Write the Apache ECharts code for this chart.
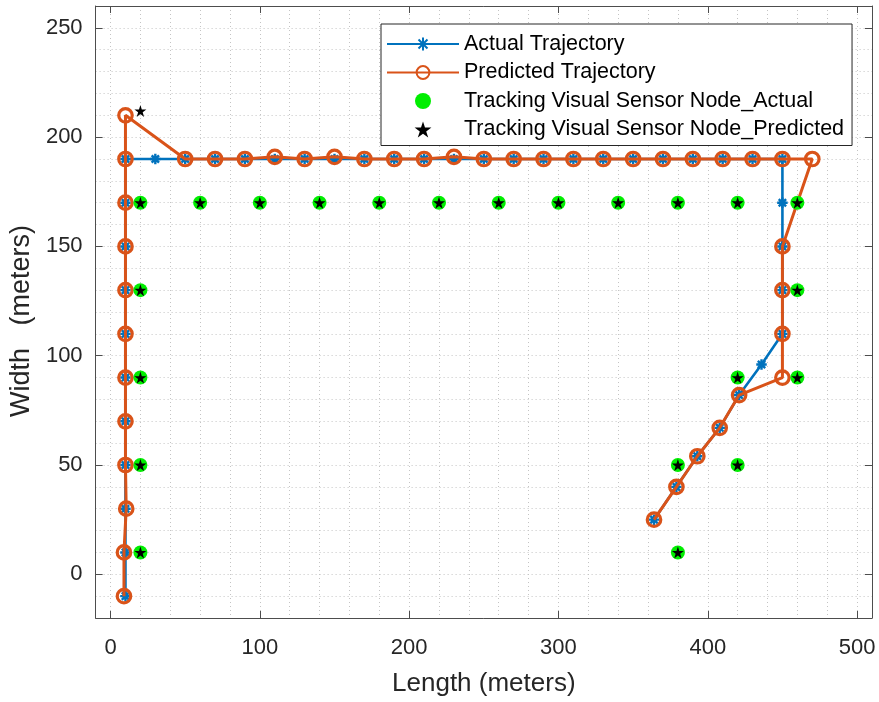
<!DOCTYPE html>
<html>
<head>
<meta charset="utf-8">
<script src="https://cdn.jsdelivr.net/npm/echarts@6/dist/echarts.min.js"></script>
<style>
  html, body { margin: 0; padding: 0; background: #fff; }
  #chart { width: 879px; height: 702px; }
</style>
</head>
<body>
<div id="chart"></div>
<script>
// trajectory (meters)
const actualX = [10, 10, 10, 10, 10, 10, 10, 10, 10, 10, 10, 30, 50, 70, 90, 110, 130, 150, 170, 190, 210, 230, 250, 270, 290, 310, 330, 350, 370, 390, 410, 430, 450, 450, 450, 450, 450, 436, 421, 408, 393, 379, 364];
const actualY = [-10, 10, 30, 50, 70, 90, 110, 130, 150, 170, 190, 190, 190, 190, 190, 190, 190, 190, 190, 190, 190, 190, 190, 190, 190, 190, 190, 190, 190, 190, 190, 190, 190, 170, 150, 130, 110, 96, 82, 67, 54, 40, 25];

const predictedX = [9, 9, 10.5, 10, 10, 10, 10, 10, 10, 10, 10, 10, 50, 70, 90, 110, 130, 150, 170, 190, 210, 230, 250, 270, 290, 310, 330, 350, 370, 390, 410, 430, 450, 470, 450, 450, 450, 450, 421, 408, 393, 379, 364];
const predictedY = [-10, 10, 30, 50, 70, 90, 110, 130, 150, 170, 190, 210, 190, 190, 190, 191, 190, 191, 190, 190, 190, 191, 190, 190, 190, 190, 190, 190, 190, 190, 190, 190, 190, 190, 150, 130, 110, 90, 82, 67, 54, 40, 25];

const nodeActual = [[20, 10], [20, 50], [20, 90], [20, 130], [20, 170], [60, 170], [100, 170], [140, 170], [180, 170], [220, 170], [260, 170], [300, 170], [340, 170], [380, 170], [420, 170], [460, 170], [460, 130], [460, 90], [420, 90], [420, 50], [380, 50], [380, 10]];
const nodePredicted = [[20, 212], [20, 10], [20, 50], [20, 90], [20, 130], [20, 170], [60, 170], [100, 170], [140, 170], [180, 170], [220, 170], [260, 170], [300, 170], [340, 170], [380, 170], [420, 170], [460, 170], [460, 130], [460, 90], [420, 90], [420, 50], [380, 50], [380, 10]];

const xTicks = [0, 100, 200, 300, 400, 500];
const yTicks = [0, 50, 100, 150, 200, 250];

const names = ['Actual Trajectory', 'Predicted Trajectory', 'Tracking Visual Sensor Node_Actual', 'Tracking Visual Sensor Node_Predicted'];

const FONT = "'Liberation Sans', Arial, sans-serif";
const BLUE = '#0072BD';
const ORANGE = '#D95319';
const GRID = '#c4c4c4';
const AXIS = '#4d4d4d';

const asterisk = 'path://M0,-1L0,1M-1,0L1,0M-0.7,-0.7L0.7,0.7M-0.7,0.7L0.7,-0.7';
const star = 'path://M0,-1L0.2245,-0.309L0.951,-0.309L0.363,0.118L0.588,0.809L0,0.382L-0.588,0.809L-0.363,0.118L-0.951,-0.309L-0.2245,-0.309Z';

function pairs(xs, ys) {
    let out = [];
    for (let i = 0; i < xs.length; i++) {
        out.push([xs[i], ys[i]]);
    }
    return out;
}

// a frame axis (ticks only, labels optional)
function frameAxis(pos, min, max, ticks, withLabels) {
    return {
        type: 'value',
        position: pos,
        min: min,
        max: max,
        axisLine: { show: true, onZero: false, lineStyle: { color: AXIS, width: 1 } },
        axisTick: { show: true, inside: true, length: 7, customValues: ticks, lineStyle: { color: AXIS } },
        axisLabel: withLabels
            ? { customValues: ticks, fontSize: 22, color: '#262626', margin: 13, fontFamily: FONT }
            : { show: false },
        splitLine: { show: false }
    };
}

// an invisible axis that only draws the dotted grid
function gridAxis(pos, min, max, colors) {
    return {
        type: 'value',
        position: pos,
        min: min,
        max: max,
        interval: 10,
        axisLine: { show: false },
        axisTick: { show: false },
        axisLabel: { show: false },
        splitLine: { show: true, lineStyle: { color: colors, type: [1, 3], width: 1 } }
    };
}

const xBottom = frameAxis('bottom', -10, 510, xTicks, true);
xBottom.name = 'Length (meters)';
xBottom.nameLocation = 'middle';
xBottom.nameGap = 53;
xBottom.nameTextStyle = { fontSize: 26, color: '#262626', fontFamily: FONT };
xBottom.axisLabel.margin = 19;

const yLeft = frameAxis('left', -20, 260, yTicks, true);
yLeft.name = 'Width   (meters)';
yLeft.nameLocation = 'middle';
yLeft.nameGap = 58;
yLeft.nameTextStyle = { fontSize: 27, color: '#262626', fontFamily: FONT, padding: [0, 18, 0, 0] };

const chart = echarts.init(document.getElementById('chart'));

chart.setOption({
    animation: false,
    backgroundColor: '#fff',
    textStyle: { fontFamily: FONT },
    grid: { left: 95, right: 7, top: 6, bottom: 84 },
    legend: {
        left: 381,
        top: 24,
        orient: 'vertical',
        data: names,
        itemWidth: 72,
        itemHeight: 16,
        itemGap: 6.5,
        padding: [9, 8, 5, 5],
        borderColor: '#262626',
        borderWidth: 1,
        backgroundColor: '#fff',
        textStyle: { fontSize: 21.5, color: '#000', fontFamily: FONT }
    },
    xAxis: [
        gridAxis('bottom', -10, 510, ['rgba(0,0,0,0)', GRID]),
        xBottom,
        frameAxis('top', -10, 510, xTicks, false)
    ],
    yAxis: [
        gridAxis('left', -20, 260, [GRID]),
        yLeft,
        frameAxis('right', -20, 260, yTicks, false)
    ],
    series: [{
        name: names[0],
        type: 'line',
        xAxisIndex: 1,
        yAxisIndex: 1,
        z: 2,
        data: pairs(actualX, actualY),
        symbol: asterisk,
        symbolSize: 10.5,
        showAllSymbol: true,
        lineStyle: { color: BLUE, width: 2.6 },
        itemStyle: { color: BLUE, borderColor: BLUE, borderWidth: 2.4 }
    }, {
        name: names[1],
        type: 'line',
        xAxisIndex: 1,
        yAxisIndex: 1,
        z: 3,
        data: pairs(predictedX, predictedY),
        symbol: 'circle',
        symbolSize: 13.5,
        showAllSymbol: true,
        lineStyle: { color: ORANGE, width: 3 },
        itemStyle: { color: 'rgba(255,255,255,0)', borderColor: ORANGE, borderWidth: 3.2 }
    }, {
        name: names[2],
        type: 'scatter',
        xAxisIndex: 1,
        yAxisIndex: 1,
        z: 4,
        data: nodeActual,
        symbol: 'circle',
        symbolSize: 14,
        itemStyle: { color: '#00ee00', opacity: 1 }
    }, {
        name: names[3],
        type: 'scatter',
        xAxisIndex: 1,
        yAxisIndex: 1,
        z: 5,
        data: nodePredicted,
        symbol: star,
        symbolSize: 12,
        itemStyle: { color: '#000', opacity: 1 }
    }]
});
</script>
</body>
</html>
